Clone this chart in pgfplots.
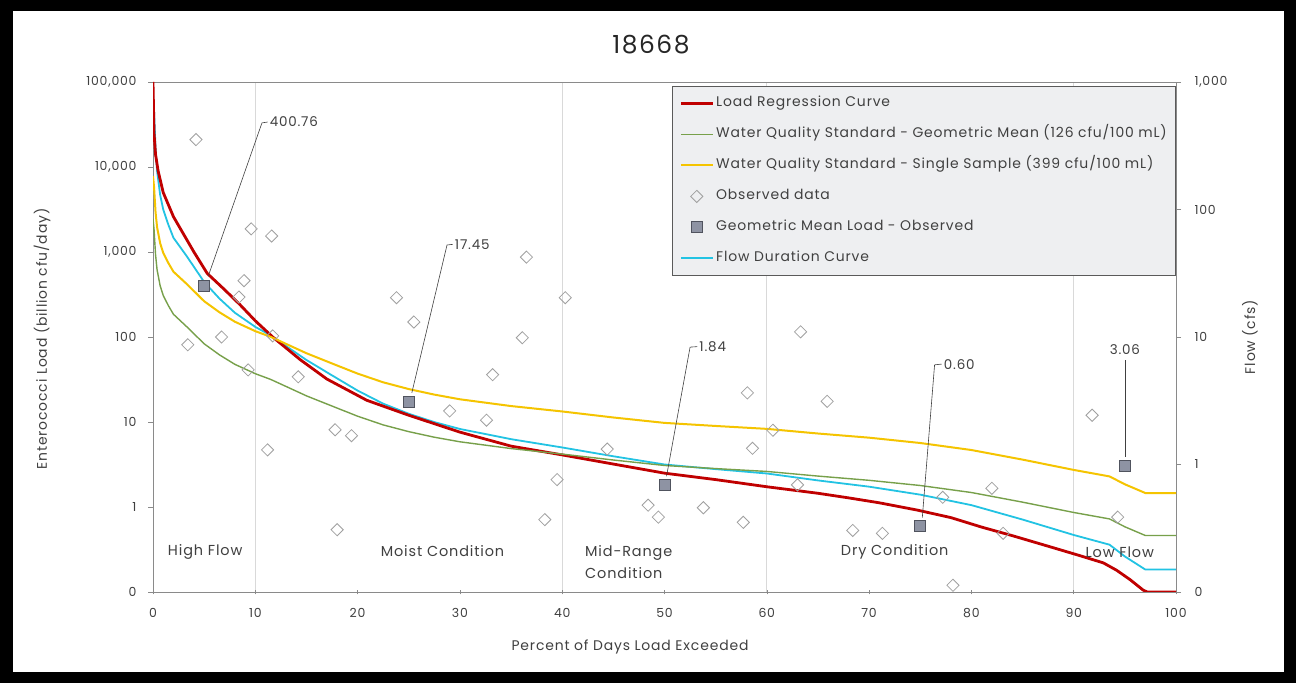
\documentclass[border=0pt]{standalone}
\usepackage{pgfplots}
\pgfplotsset{compat=1.18}
\usepackage{fontspec}
\setmainfont{Poppins}[LetterSpace=6]
\definecolor{regred}{HTML}{C00000}
\definecolor{gmgreen}{HTML}{77A04A}
\definecolor{ssyellow}{HTML}{F5C400}
\definecolor{flowcyan}{HTML}{22C3E3}
\definecolor{obsgray}{HTML}{A0A0A0}
\definecolor{sqfill}{HTML}{8E93A3}
\definecolor{sqdraw}{HTML}{50535E}
\definecolor{axgray}{HTML}{8A8A8A}
\definecolor{gridgray}{HTML}{D9D9D9}
\definecolor{txtgray}{HTML}{404040}
\definecolor{legfill}{HTML}{EEEFF1}
\definecolor{legdraw}{HTML}{5A5A5A}
\begin{document}
\begin{tikzpicture}[x=1bp,y=1bp]
\fill[black] (0,0) rectangle (1296,683);
\fill[white] (13,11) rectangle (1284,672);
\node[font=\fontsize{25}{29}\selectfont, text=black!85] at (651,638) {18668};
\node[rotate=90, font=\fontsize{14}{16}\selectfont, text=txtgray] at (42,344) {Enterococci Load (billion cfu/day)};
\node[rotate=90, font=\fontsize{14}{16}\selectfont, text=txtgray] at (1250,346) {Flow (cfs)};
\node[font=\fontsize{14}{16}\selectfont, text=txtgray] at (630,36) {Percent of Days Load Exceeded};

% secondary axis: flow
\begin{axis}[
  at={(153bp,91bp)}, anchor=south west,
  scale only axis, width=1023bp, height=510bp,
  xmin=0, xmax=100, ymode=log, ymin=0.1, ymax=1000,
  axis x line=none, axis y line*=right,
  ytick={0.1,1,10,100,1000},
  yticklabels={0,1,10,100,{1,000}},
  yminorticks=false,
  axis line style={axgray, line width=0.8bp},
  tick style={axgray, line width=0.6bp},
  major tick length=5bp, ytick align=outside,
  tick label style={font=\fontsize{12.5}{14}\selectfont, text=txtgray},
  yticklabel style={xshift=10bp},
]
\draw[gridgray, line width=0.8bp] (axis cs:10,0.1) -- (axis cs:10,1000);
\draw[gridgray, line width=0.8bp] (axis cs:40,0.1) -- (axis cs:40,1000);
\draw[gridgray, line width=0.8bp] (axis cs:60,0.1) -- (axis cs:60,1000);
\draw[gridgray, line width=0.8bp] (axis cs:90,0.1) -- (axis cs:90,1000);
\addplot[flowcyan, line width=1.8bp, line join=round] coordinates {
(0,800) (0.1,600) (0.25,300) (0.4,200) (0.7,130) (1,100) (1.5,76) (2,60) (3.3,43)
(5,27) (6.5,20) (8,15.5) (10,12) (11.5,10.3) (13,8.5) (15,6.6) (17.5,5.0) (20,3.8)
(22.5,3.0) (25,2.5) (27.5,2.15) (30,1.9) (35,1.58) (40,1.36) (45,1.16) (50,1.0)
(55,0.92) (60,0.85) (65,0.75) (70,0.67) (75,0.58) (80,0.48) (85,0.37) (90,0.28)
(93.5,0.235) (95,0.19) (97,0.15) (100,0.15)
};
\end{axis}

% primary axis: load
\begin{axis}[
  at={(153bp,91bp)}, anchor=south west,
  scale only axis, width=1023bp, height=510bp,
  xmin=0, xmax=100, ymode=log, ymin=0.1, ymax=100000,
  xtick={0,10,...,100},
  xticklabels={0,10,20,30,40,50,60,70,80,90,100},
  ytick={0.1,1,10,100,1000,10000,100000},
  yticklabels={0,1,10,100,{1,000},{10,000},{100,000}},
  yminorticks=false,
  xtick pos=bottom, ytick pos=left,
  axis line style={axgray, line width=0.8bp},
  tick style={axgray, line width=0.6bp},
  major tick length=5bp, ytick align=outside, xtick align=center,
  tick label style={font=\fontsize{12.5}{14}\selectfont, text=txtgray},
  xticklabel style={yshift=-10bp},
  yticklabel style={xshift=-8bp},
  legend cell align=left,
  legend image code/.code={\draw[mark repeat=2,mark phase=2,#1] plot coordinates {(0bp,0bp) (16bp,0bp) (32bp,0bp)};},
  legend style={at={(axis description cs:0.5073,0.992)}, anchor=north west,
    draw=legdraw, line width=0.8bp, fill=legfill, text=txtgray,
    font=\fontsize{14}{16}\selectfont, row sep=15bp,
    nodes={text height=9bp, text depth=3bp},
    inner xsep=7bp, inner ysep=9bp},
]
\addplot[regred, line width=2.8bp, line join=round] coordinates {
(0,100000) (0.1,25000) (0.25,14000) (0.5,9000) (1,5000) (2,2600) (2.6,1950)
(4,1000) (5.3,560) (7,360) (8.5,240) (10,155) (11.7,100) (14.4,54) (17,32)
(20.9,18) (25,12) (30,7.6) (35,5.2) (40,4.1) (45,3.2) (50,2.5) (55,2.1) (60,1.73)
(65,1.45) (68,1.28) (71,1.12) (74.7,0.92) (78,0.75) (81,0.58) (84,0.46) (87.7,0.34)
(90.5,0.27) (92.9,0.22) (94.2,0.18) (95.5,0.14) (96.8,0.105) (97.2,0.1) (100,0.1)
};
\addlegendentry{Load Regression Curve}
\addplot[gmgreen, line width=1.4bp, line join=round] coordinates {
(0,2464) (0.1,1848) (0.25,924) (0.4,616) (0.7,400) (1,308) (1.5,234) (2,185) (3.3,132)
(5,83.2) (6.5,61.6) (8,47.7) (10,37.0) (11.5,31.7) (13,26.2) (15,20.3) (17.5,15.4)
(20,11.7) (22.5,9.24) (25,7.70) (27.5,6.62) (30,5.85) (35,4.87) (40,4.19) (45,3.57)
(50,3.08) (55,2.83) (60,2.62) (65,2.31) (70,2.06) (75,1.79) (80,1.48) (85,1.14)
(90,0.862) (93.5,0.724) (95,0.585) (97,0.462) (100,0.462)
};
\addlegendentry{Water Quality Standard - Geometric Mean (126 cfu/100 mL)}
\addplot[ssyellow, line width=2bp, line join=round] coordinates {
(0,7808) (0.1,5856) (0.25,2928) (0.4,1952) (0.7,1269) (1,976) (1.5,742) (2,586) (3.3,420)
(5,263.5) (6.5,195.2) (8,151.3) (10,117.1) (11.5,100.5) (13,83.0) (15,64.4) (17.5,48.8)
(20,37.1) (22.5,29.3) (25,24.4) (27.5,21.0) (30,18.5) (35,15.4) (40,13.3) (45,11.3)
(50,9.76) (55,8.98) (60,8.30) (65,7.32) (70,6.54) (75,5.66) (80,4.68) (85,3.61)
(90,2.73) (93.5,2.29) (95,1.85) (97,1.46) (100,1.46)
};
\addlegendentry{Water Quality Standard - Single Sample (399 cfu/100 mL)}
\addplot[only marks, mark=square, mark size=4.3bp, mark options={rotate=45, draw=obsgray, line width=0.8bp, fill=none}] coordinates {
(4.2,21000) (3.4,81) (6.7,100) (9.6,1870) (11.6,1540) (8.9,460) (8.4,295) (9.3,41)
(11.7,103) (14.2,34) (11.2,4.7) (17.8,8.1) (19.4,6.9) (18.0,0.54) (23.8,290) (25.5,150)
(29.0,13.5) (32.6,10.5) (33.2,36) (36.1,98) (36.5,870) (40.3,290) (39.5,2.1) (38.3,0.71)
(44.4,4.8) (48.4,1.05) (49.4,0.76) (53.8,0.98) (57.7,0.66) (58.6,4.9) (58.1,22) (60.6,8.0)
(63.0,1.82) (63.3,115) (65.9,17.5) (68.4,0.53) (71.3,0.49) (77.2,1.3) (78.2,0.12)
(82.0,1.66) (83.1,0.49) (91.8,12) (94.3,0.76)
};
\addlegendentry{Observed data}
\addplot[only marks, mark=square*, mark size=5.5bp, mark options={draw=sqdraw, fill=sqfill, line width=0.8bp}] coordinates {
(5,400.76) (25,17.45) (50,1.84) (75,0.60) (95,3.06)
};
\addlegendentry{Geometric Mean Load - Observed}
\addlegendimage{flowcyan, line width=1.8bp}
\addlegendentry{Flow Duration Curve}

% callouts
\draw[txtgray, line width=0.6bp] (axis cs:5.4,520) -- (axis cs:10.65,33000) -- (axis cs:11.2,33800);
\node[anchor=west, inner sep=1bp, font=\fontsize{13.5}{15}\selectfont, text=txtgray] at (axis cs:11.3,33800) {400.76};
\draw[txtgray, line width=0.6bp] (axis cs:25.3,22) -- (axis cs:28.74,1208) -- (axis cs:29.3,1230);
\node[anchor=west, inner sep=1bp, font=\fontsize{13.5}{15}\selectfont, text=txtgray] at (axis cs:29.4,1230) {17.45};
\draw[txtgray, line width=0.6bp] (axis cs:50.2,2.3) -- (axis cs:52.5,76) -- (axis cs:53.2,77);
\node[anchor=west, inner sep=1bp, font=\fontsize{13.5}{15}\selectfont, text=txtgray] at (axis cs:53.3,77) {1.84};
\draw[txtgray, line width=0.6bp] (axis cs:75.2,0.75) -- (axis cs:76.4,47) -- (axis cs:77.1,48);
\node[anchor=west, inner sep=1bp, font=\fontsize{13.5}{15}\selectfont, text=txtgray] at (axis cs:77.2,48) {0.60};
\draw[txtgray, line width=0.6bp] (axis cs:95,3.9) -- (axis cs:95,54);
\node[anchor=south, inner sep=1bp, font=\fontsize{13.5}{15}\selectfont, text=txtgray] at (axis cs:95,60) {3.06};

% regime labels
\node[font=\fontsize{14.5}{16}\selectfont, text=txtgray] at (axis cs:5.1,0.295) {High Flow};
\node[font=\fontsize{14.5}{16}\selectfont, text=txtgray] at (axis cs:28.3,0.30) {Moist Condition};
\node[anchor=west, align=left, font=\fontsize{14.5}{21.5}\selectfont, text=txtgray] at (axis cs:41.9,0.225) {Mid-Range\\Condition};
\node[font=\fontsize{14.5}{16}\selectfont, text=txtgray] at (axis cs:72.5,0.30) {Dry Condition};
\node[font=\fontsize{14.5}{16}\selectfont, text=txtgray] at (axis cs:94.5,0.295) {Low Flow};
\end{axis}
\end{tikzpicture}
\end{document}
